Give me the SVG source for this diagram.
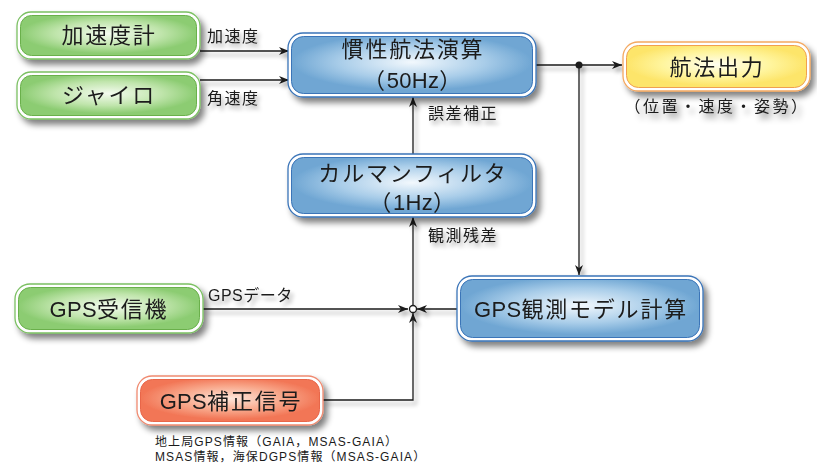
<svg xmlns="http://www.w3.org/2000/svg" width="817" height="463" viewBox="0 0 817 463">
<defs>
<style>
text{font-family:"Liberation Sans","Noto Sans CJK JP",sans-serif;fill:#1a1a1a}
.nt{font-size:22px;text-anchor:middle;letter-spacing:1.8px}
.lb{font-size:16px;letter-spacing:1.5px}
.nb{font-size:12px;letter-spacing:1.1px}
.la{letter-spacing:0.3px}
.ln{fill:none;stroke:#1a1a1a;stroke-width:1.3}
.ow{fill:#fff;stroke-width:1.3}
.in{stroke-width:1}
</style>
<radialGradient id="gG" cx="0.5" cy="0.45" r="0.5"><stop offset="0" stop-color="#f4fbef"/><stop offset="0.6" stop-color="#c0e5ac"/><stop offset="1" stop-color="#8ccc72"/></radialGradient>
<radialGradient id="gB" cx="0.5" cy="0.45" r="0.5"><stop offset="0" stop-color="#f2f8fd"/><stop offset="0.6" stop-color="#a9cde9"/><stop offset="1" stop-color="#6fa6d3"/></radialGradient>
<radialGradient id="gO" cx="0.5" cy="0.45" r="0.5"><stop offset="0" stop-color="#fde6da"/><stop offset="0.6" stop-color="#f8a588"/><stop offset="1" stop-color="#f27656"/></radialGradient>
<radialGradient id="gY" cx="0.5" cy="0.45" r="0.5"><stop offset="0" stop-color="#fffef0"/><stop offset="0.6" stop-color="#fff59e"/><stop offset="1" stop-color="#fde56a"/></radialGradient>
<filter id="sh" x="-10%" y="-20%" width="130%" height="160%"><feGaussianBlur in="SourceAlpha" stdDeviation="3"/><feOffset dx="4" dy="5"/><feComponentTransfer><feFuncA type="linear" slope="0.5"/></feComponentTransfer><feMerge><feMergeNode/><feMergeNode in="SourceGraphic"/></feMerge></filter>
<filter id="lsh" x="-20%" y="-20%" width="140%" height="140%"><feGaussianBlur in="SourceAlpha" stdDeviation="2"/><feOffset dx="3" dy="4"/><feComponentTransfer><feFuncA type="linear" slope="0.35"/></feComponentTransfer><feMerge><feMergeNode/><feMergeNode in="SourceGraphic"/></feMerge></filter>
<marker id="ar" viewBox="0 0 10 8" refX="10" refY="4" markerWidth="10" markerHeight="8" markerUnits="userSpaceOnUse" orient="auto"><path d="M0,0 L10,4 L0,8 L3,4 z" fill="#1a1a1a"/></marker>
</defs>

<g id="connectors" filter="url(#lsh)">
<path class="ln" d="M200,51 H289" marker-end="url(#ar)"/>
<path class="ln" d="M200,80 H289" marker-end="url(#ar)"/>
<path class="ln" d="M536,65 H622" marker-end="url(#ar)"/>
<path class="ln" d="M579,65 V275" marker-end="url(#ar)"/>
<path class="ln" d="M413,154 V97" marker-end="url(#ar)"/>
<path class="ln" d="M413,305 V217" marker-end="url(#ar)"/>
<path class="ln" d="M203,309 H408" marker-end="url(#ar)"/>
<path class="ln" d="M457,309 H417" marker-end="url(#ar)"/>
<path class="ln" d="M323,400 H413 V313" marker-end="url(#ar)"/>
<circle cx="579" cy="65" r="3.5" fill="#1a1a1a"/>
<circle cx="413" cy="309" r="3.5" fill="#fff" stroke="#1a1a1a" stroke-width="1.3"/>
<text class="lb" x="207" y="42">加速度</text>
<text class="lb" x="207" y="104">角速度</text>
<text class="lb" x="428" y="119">誤差補正</text>
<text class="lb" x="428" y="241">観測残差</text>
<text class="lb" x="208" y="301" style="letter-spacing:0.5px">GPSデータ</text>
</g>

<g id="n-accel" filter="url(#sh)">
<rect class="ow" x="17" y="12" width="183" height="47" rx="14" stroke="#7bc062"/>
<rect class="in" x="20.5" y="15.5" width="176" height="40" rx="11" fill="url(#gG)" stroke="#6ab04c"/>
<text class="nt" x="109" y="43">加速度計</text>
</g>
<g id="n-gyro" filter="url(#sh)">
<rect class="ow" x="17" y="72" width="183" height="47" rx="14" stroke="#7bc062"/>
<rect class="in" x="20.5" y="75.5" width="176" height="40" rx="11" fill="url(#gG)" stroke="#6ab04c"/>
<text class="nt" x="109" y="103">ジャイロ</text>
</g>
<g id="n-ins" filter="url(#sh)">
<rect class="ow" x="288" y="33" width="248" height="64" rx="15" stroke="#3a74b8"/>
<rect class="in" x="291.5" y="36.5" width="241" height="57" rx="12" fill="url(#gB)" stroke="#3a74b8"/>
<text class="nt" x="413" y="57">慣性航法演算</text>
<text class="nt" x="413" y="88">（<tspan class="la">50Hz</tspan>）</text>
</g>
<g id="n-out" filter="url(#sh)">
<rect class="ow" x="623" y="42" width="187" height="49" rx="15" stroke="#f4a860"/>
<rect class="in" x="626.5" y="45.5" width="180" height="42" rx="12" fill="url(#gY)" stroke="#f0a050"/>
<text class="nt" x="717" y="75">航法出力</text>
<text class="lb" x="717" y="112" text-anchor="middle" style="letter-spacing:2.5px">（位置・速度・姿勢）</text>
</g>
<g id="n-kalman" filter="url(#sh)">
<rect class="ow" x="288" y="154" width="248" height="63" rx="15" stroke="#3a74b8"/>
<rect class="in" x="291.5" y="157.5" width="241" height="56" rx="12" fill="url(#gB)" stroke="#3a74b8"/>
<text class="nt" x="413" y="181">カルマンフィルタ</text>
<text class="nt" x="413" y="210">（<tspan class="la">1Hz</tspan>）</text>
</g>
<g id="n-model" filter="url(#sh)">
<rect class="ow" x="457" y="276" width="246" height="65" rx="15" stroke="#3a74b8"/>
<rect class="in" x="460.5" y="279.5" width="239" height="58" rx="12" fill="url(#gB)" stroke="#3a74b8"/>
<text class="nt" x="581" y="317"><tspan class="la">GPS</tspan>観測モデル計算</text>
</g>
<g id="n-rx" filter="url(#sh)">
<rect class="ow" x="15" y="284" width="188" height="49" rx="15" stroke="#7bc062"/>
<rect class="in" x="18.5" y="287.5" width="181" height="42" rx="12" fill="url(#gG)" stroke="#6ab04c"/>
<text class="nt" x="109" y="317"><tspan class="la">GPS</tspan>受信機</text>
</g>
<g id="n-corr" filter="url(#sh)">
<rect class="ow" x="137" y="376" width="186" height="49" rx="15" stroke="#f08a70"/>
<rect class="in" x="140.5" y="379.5" width="179" height="42" rx="12" fill="url(#gO)" stroke="#e8664a"/>
<text class="nt" x="231" y="409"><tspan class="la">GPS</tspan>補正信号</text>
</g>
<g id="notes">
<text class="nb" x="155" y="446">地上局GPS情報（GAIA，MSAS-GAIA）</text>
<text class="nb" x="155" y="461">MSAS情報，海保DGPS情報（MSAS-GAIA）</text>
</g>
</svg>
